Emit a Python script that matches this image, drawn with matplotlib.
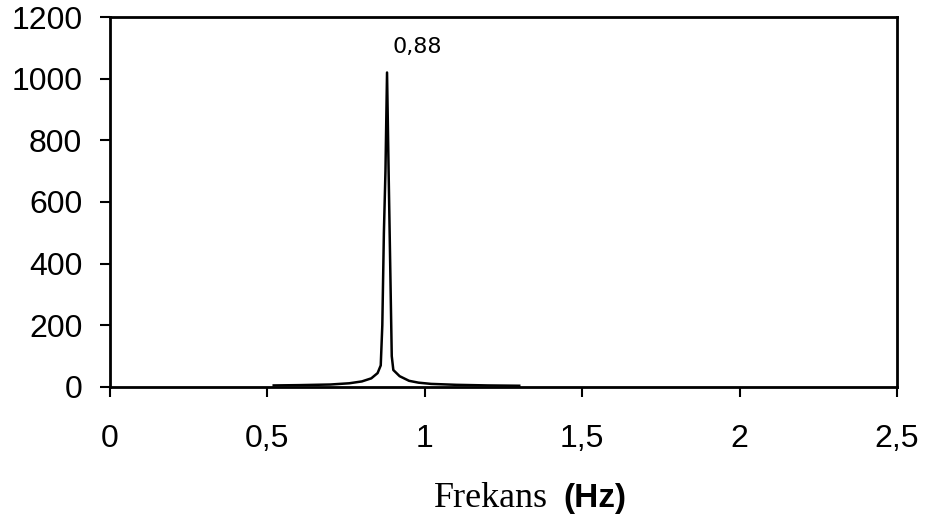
import numpy as np
import matplotlib
matplotlib.use("Agg")
from matplotlib import pyplot as plt

# spectrum (Hz, amplitude)
freq = [0.52, 0.60, 0.70, 0.76, 0.80, 0.83, 0.85, 0.86, 0.865, 0.87, 0.875,
        0.88, 0.885, 0.89, 0.895, 0.90, 0.92, 0.95, 0.98, 1.02, 1.10, 1.20, 1.30]
amp = [5, 6, 8, 12, 18, 28, 45, 70, 200, 500, 700,
       1020, 700, 400, 100, 55, 35, 20, 14, 10, 7, 5, 4]
peak_label = "0,88"
xticks = [0, 0.5, 1, 1.5, 2, 2.5]
xtick_labels = ["0", "0,5", "1", "1,5", "2", "2,5"]
yticks = [0, 200, 400, 600, 800, 1000, 1200]

plt.rcParams['font.family'] = ['Liberation Sans', 'DejaVu Sans']

fig = plt.figure(figsize=(9.27, 5.25), dpi=100)
ax = fig.add_axes([0.1187, 0.2629, 0.8489, 0.7047])

ax.plot(freq, amp, color='black', linewidth=1.8)
ax.set_xlim(0, 2.5)
ax.set_ylim(0, 1200)
ax.set_xticks(xticks)
ax.set_xticklabels(xtick_labels)
ax.set_yticks(yticks)
ax.tick_params(labelsize=23, direction='out', length=7, width=1.5, pad=13)
ax.tick_params(axis='x', pad=20)
for s in ax.spines.values():
    s.set_linewidth(2)

i = int(np.argmax(amp))
ax.annotate(peak_label, (freq[i], amp[i]), xytext=(3.6, 13.7), textcoords='offset points',
            fontsize=16, family='DejaVu Sans', ha='left', va='baseline')

fig.text(548 / 927, 1 - 507 / 525, "Frekans", family='Liberation Serif', fontsize=26,
         ha='right', va='baseline')
fig.text(563 / 927, 1 - 507 / 525, "(Hz)", fontweight='bold', fontsize=24,
         ha='left', va='baseline')

plt.savefig('out.png', dpi=100)
